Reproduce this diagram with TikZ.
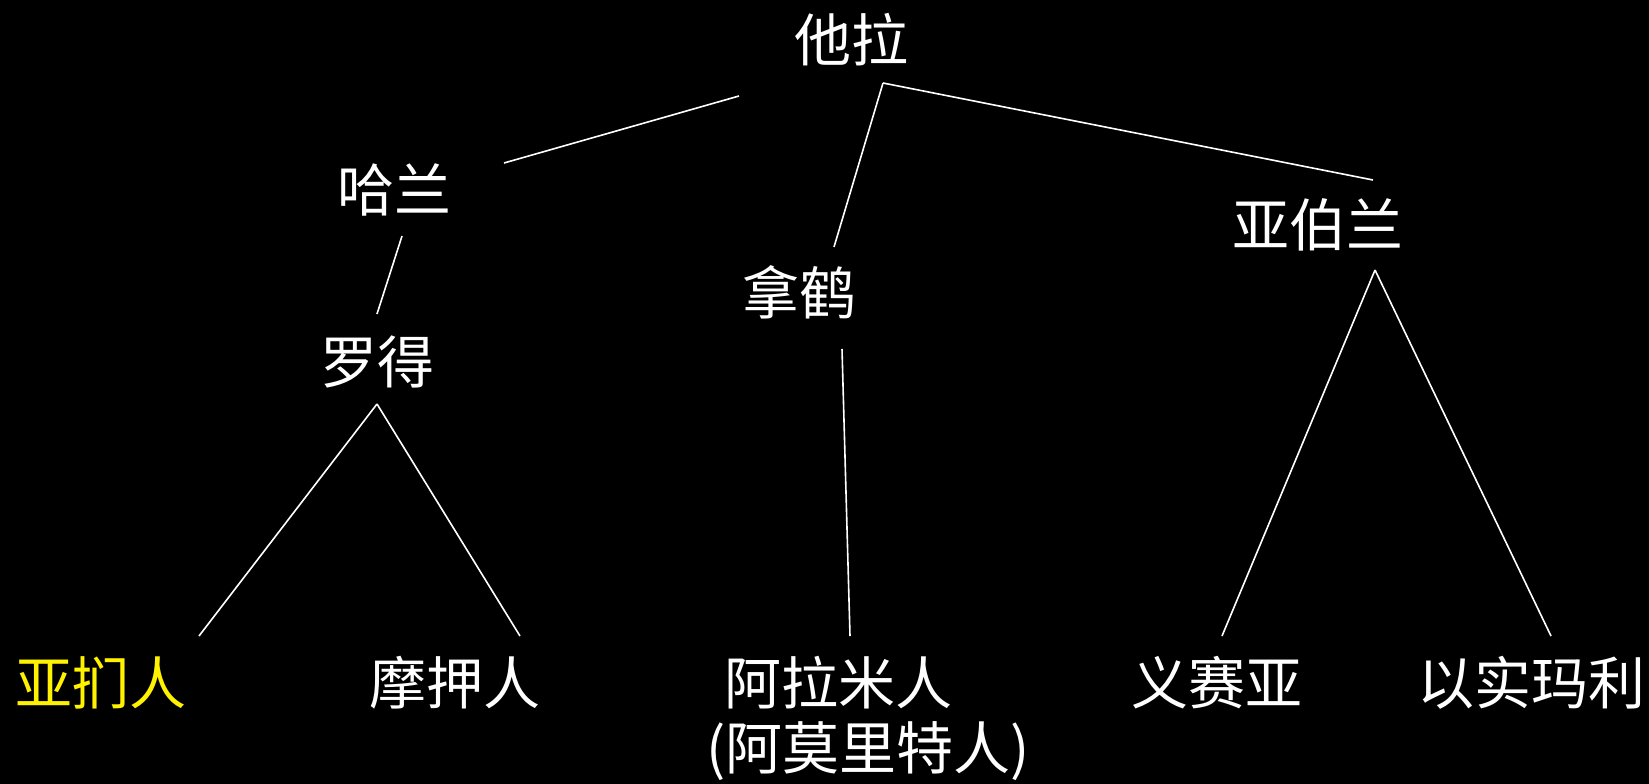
\documentclass[tikz,border=0pt]{standalone}
\usepackage{fontspec}
\newfontfamily\cjk{Noto Sans CJK SC}
\begin{document}
\begin{tikzpicture}[x=1pt,y=-1pt,
  lbl/.style={text=white,font=\cjk\fontsize{57}{62}\selectfont,inner sep=0pt,align=center},
  conn/.style={draw=white,line width=1.6pt}]
\fill[black] (0,0) rectangle (1649,784);
\useasboundingbox (0,0) rectangle (1649,784);
% nodes
\node[lbl] (tara) at (851,40) {他拉};
\node[lbl] (haran) at (394,190) {哈兰};
\node[lbl] (abram) at (1318,225) {亚伯兰};
\node[lbl] (nahor) at (799,292) {拿鹤};
\node[lbl] (lot) at (377,362) {罗得};
\node[lbl,text=yellow] (ammon) at (101,683) {亚扪人};
\node[lbl] (moab) at (455,683) {摩押人};
\node[lbl] (aram) at (838,683) {阿拉米人};
\node[lbl] (amor) at (868,751) {(阿莫里特人)};
\node[lbl] (isaac) at (1217,683) {义赛亚};
\node[lbl] (ishmael) at (1531,683) {以实玛利};
% connector ends
\coordinate (t1) at (739,96);
\coordinate (t2) at (883,83);
\coordinate (h1) at (504,163);
\coordinate (h2) at (402,236);
\coordinate (n1) at (834,247);
\coordinate (n2) at (842,349);
\coordinate (a1) at (1373,180);
\coordinate (a2) at (1375,270);
\coordinate (l1) at (377,314);
\coordinate (l2) at (377,404);
\coordinate (am) at (199,636);
\coordinate (mo) at (520,636);
\coordinate (ar) at (850,636);
\coordinate (is) at (1222,636);
\coordinate (ish) at (1551,636);
% connectors
\draw[conn] (t1) -- (h1);
\draw[conn] (t2) -- (n1);
\draw[conn] (t2) -- (a1);
\draw[conn] (h2) -- (l1);
\draw[conn] (l2) -- (am);
\draw[conn] (l2) -- (mo);
\draw[conn] (n2) -- (ar);
\draw[conn] (a2) -- (is);
\draw[conn] (a2) -- (ish);
\end{tikzpicture}
\end{document}
